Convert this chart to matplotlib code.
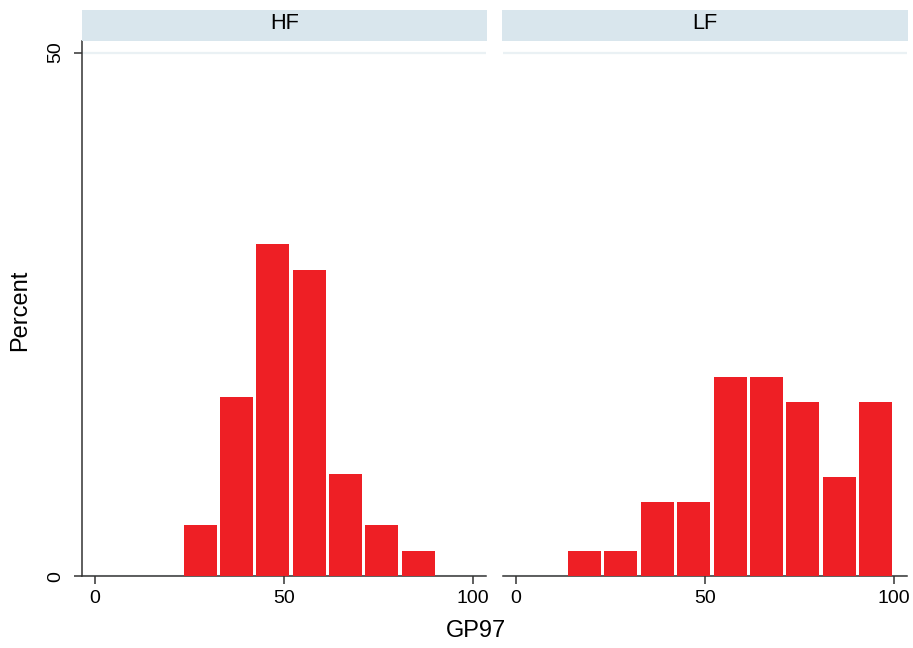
import numpy as np
import matplotlib
matplotlib.use("Agg")
import matplotlib.pyplot as plt
from matplotlib.patches import Rectangle

plt.rcParams['font.family'] = ['Liberation Sans', 'DejaVu Sans']

# common bins (Stata by() histogram), 9 bins
bin_start = 13.4
bin_width = 9.62
n_bins = 9

groups = ['HF', 'LF']
# percent per bin
hf_pct = [0, 4.88, 17.07, 31.71, 29.27, 9.76, 4.88, 2.44, 0]
lf_pct = [2.38, 2.38, 7.14, 7.14, 19.05, 19.05, 16.67, 9.52, 16.67]
xticks = [0, 50, 100]
yticks = [0, 50]

W, H = 913, 648
fig = plt.figure(figsize=(W / 100, H / 100), dpi=100)

red = '#ee1f25'
strip_col = '#d9e6ed'
grid_col = '#eaf1f4'
axis_col = '#333333'

panels = [(82, 486), (502.7, 907)]
strips = [(82, 487), (502, 908)]
top, bottom = 41, 576.3

edges = bin_start + bin_width * np.arange(n_bins + 1)
centers = (edges[:-1] + edges[1:]) / 2
gap = 0.9

for i, (name, pct) in enumerate(zip(groups, [hf_pct, lf_pct])):
    x0, x1 = panels[i]
    ax = fig.add_axes([x0 / W, 1 - bottom / H, (x1 - x0) / W, (bottom - top) / H])
    ax.bar(centers, pct, width=bin_width - gap, color=red, linewidth=0, zorder=3)
    ax.set_xlim(-3.44, 103.5)
    ax.set_ylim(0, 51.1)
    ax.set_xticks(xticks)
    ax.set_yticks(yticks)
    ax.yaxis.grid(True, color=grid_col, linewidth=1.6, zorder=0)
    ax.set_axisbelow(True)
    for s in ['top', 'right']:
        ax.spines[s].set_visible(False)
    ax.spines['bottom'].set_color(axis_col)
    ax.spines['bottom'].set_linewidth(1.1)
    ax.tick_params(axis='x', direction='out', length=6, width=1.1, color=axis_col,
                   labelsize=14, pad=4)
    if i == 0:
        ax.spines['left'].set_color(axis_col)
        ax.spines['left'].set_linewidth(1.1)
        ax.tick_params(axis='y', direction='out', length=6, width=1.1, color=axis_col,
                       labelsize=14, pad=7)
        for lab in ax.get_yticklabels():
            lab.set_rotation(90)
            lab.set_va('center')
    else:
        ax.spines['left'].set_visible(False)
        ax.tick_params(axis='y', left=False, labelleft=False)

    sx0, sx1 = strips[i]
    fig.patches.append(Rectangle((sx0 / W, 1 - 41 / H), (sx1 - sx0) / W, 31 / H,
                                 transform=fig.transFigure, facecolor=strip_col,
                                 edgecolor='none'))
    fig.text((sx0 + sx1) / 2 / W, 1 - 23.5 / H, name, ha='center', va='center',
             fontsize=15.7)

fig.text(476 / W, 1 - 631 / H, 'GP97', ha='center', va='center', fontsize=17)
fig.text(20 / W, 1 - 310 / H, 'Percent', ha='center', va='center', fontsize=17,
         rotation=90)

fig.savefig('out.png', dpi=100)
